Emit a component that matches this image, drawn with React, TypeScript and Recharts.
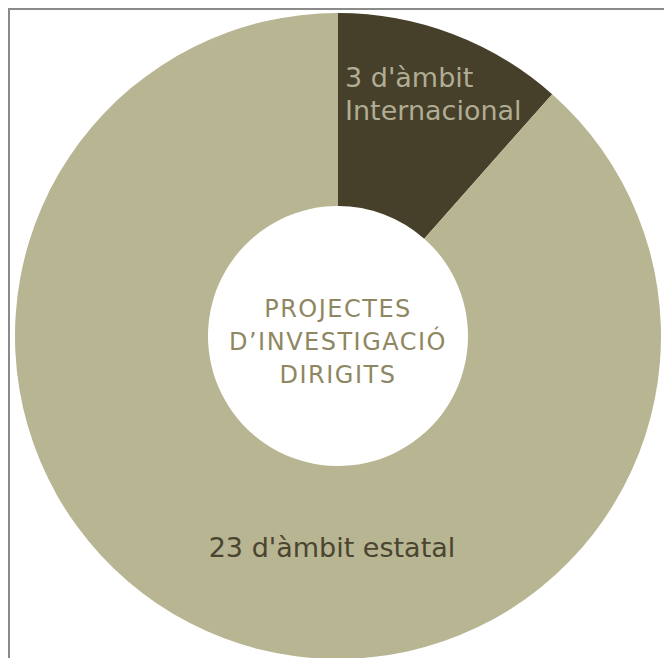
import { useEffect } from 'react'
import { PieChart, Pie, Cell } from 'recharts'

const categories = ["d'àmbit Internacional", "d'àmbit estatal"]
const values = [3, 23]
const labelLines = [
  ["3 d'àmbit", 'Internacional'],
  ["23 d'àmbit estatal"],
]
const centerLines = ['PROJECTES', 'D\u2019INVESTIGACIÓ', 'DIRIGITS']

const COLORS = ['#463f29', '#b8b592']
const LABEL_COLORS = ['#b0ad95', '#4a4430']
const FONT = '"DejaVu Sans", sans-serif'

const data = categories.map((name, i) => ({ name, value: values[i] }))

function renderLabel(props: any) {
  const { cx, cy, index } = props
  const lines = labelLines[index]
  if (index === 0) {
    return (
      <text x={cx + 7} y={cy - 249} fill={LABEL_COLORS[0]} fontSize={27} fontFamily={FONT}>
        {lines.map((l, i) => (
          <tspan key={i} x={cx + 7} dy={i === 0 ? 0 : 33}>{l}</tspan>
        ))}
      </text>
    )
  }
  return (
    <g>
      <text x={cx - 6} y={cy + 221} fill={LABEL_COLORS[1]} fontSize={27} fontFamily={FONT} textAnchor="middle">
        {lines[0]}
      </text>
      <text x={cx} y={cy - 19} fill="#8e8762" fontSize={24} letterSpacing={1.5} fontFamily={FONT} textAnchor="middle">
        {centerLines.map((l, i) => (
          <tspan key={i} x={cx} dy={i === 0 ? 0 : 33}>{l}</tspan>
        ))}
      </text>
    </g>
  )
}

export default function App() {
  useEffect(() => {
    document.body.style.overflow = 'hidden'
  }, [])

  return (
    <div
      style={{
        width: 664,
        height: 650,
        borderTop: '2px solid #8a8a8a',
        borderLeft: '2px solid #8a8a8a',
        boxSizing: 'border-box',
        background: '#fff',
      }}
    >
      <PieChart width={662} height={648} margin={{ top: 0, right: 0, bottom: 0, left: 0 }}>
        <Pie
          data={data}
          dataKey="value"
          cx={328}
          cy={326}
          innerRadius={130}
          outerRadius={323}
          startAngle={90}
          endAngle={-270}
          stroke="none"
          label={renderLabel}
          labelLine={false}
          isAnimationActive={false}
        >
          {data.map((entry, index) => (
            <Cell key={`cell-${index}`} fill={COLORS[index]} />
          ))}
        </Pie>
      </PieChart>
    </div>
  )
}
